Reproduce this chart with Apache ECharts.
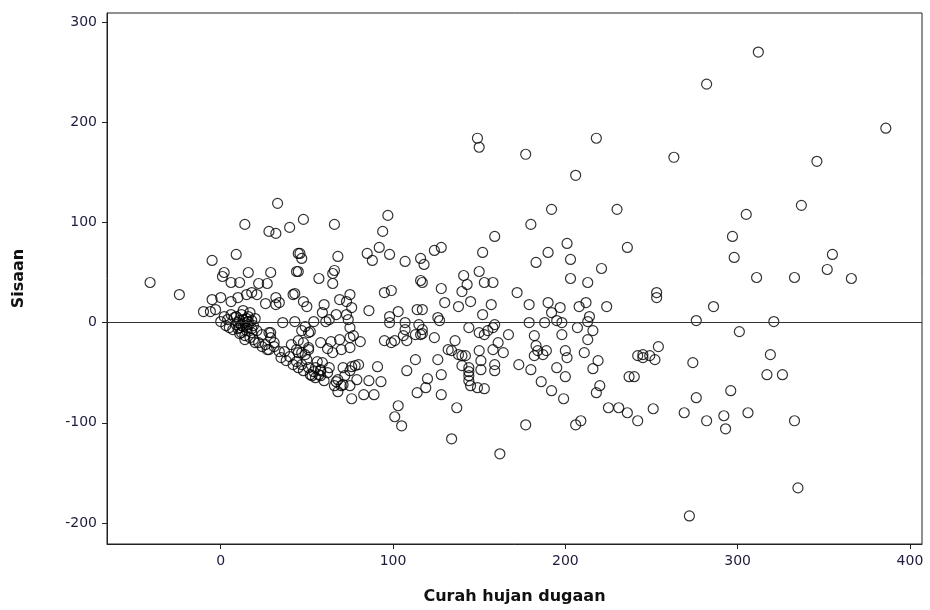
<!DOCTYPE html>
<html><head><meta charset="utf-8">
<script src="https://cdn.jsdelivr.net/npm/echarts@6/dist/echarts.min.js"></script>
<style>html,body{margin:0;padding:0;background:#fff}#c{width:930px;height:610px}</style>
</head><body><div id="c"></div>
<script>
const xTicks = [0, 100, 200, 300, 400];
const yTicks = [-200, -100, 0, 100, 200, 300];
const xTitle = "Curah hujan dugaan";
const yTitle = "Sisaan";

const residLeft = [
[-41,40],[-24,28],[-10,11],[-6,11],[-3,13],[-5,62],[-5,23],[0,25],[2,6],[6,8],[6,21],[10,25],[15,28],[18,30],[21,28],[26,19],[32,25],[32,18],
[33,119],[14,98],[28,91],[32,89],[40,95],[9,68],[45,69],[2,50],[1,46],[6,40],[11,40],[16,50],[29,50],[22,39],[27,39],[44,51],[42,28]
];
const residCluster = [
[8,5],[9,-2],[10,-6],[11,2],[12,-10],[12,8],[13,-4],[14,0],[14,-13],[15,4],[15,-8],[16,-2],[17,10],[17,-15],[18,2],[13,12],[11,-11],[9,6],[16,6],[18,-6],[3,-3],[5,-5],[7,-7],[0,1],[4,3],
[12,-3],[13,3],[15,-5],[16,1],[18,-10],[19,-3],[20,4],[21,-8],[10,0],[11,-5],
[14,-17],[19,-17],[24,-12],[28,-10],[29,-15],[26,-22],[31,-24],[34,-29],[35,-35],[28,-27],[22,-20],[20,-20],[24,-24],[27,-27]
];
const residMid1 = [
[48,21],[50,16],[60,18],[69,23],[75,28],[76,15],[73,21],[59,10],[67,8],[63,3],[54,1],[61,1],[74,3],[75,-5],[36,0],[43,1],[49,-4],[52,-9],[34,20],[58,-20],[64,-19],[69,-17],[75,-15],[70,-27],[75,-25],
[29,-10],[31,-20],[37,-29],[40,-34],[44,-39],[47,-42],[51,-45],[54,-49],[57,-52],
[38,-38],[42,-42],[45,-45],[48,-48],[52,-52],[55,-55],[60,-58],[62,-50],[63,-45],[41,-22],[44,-27],[62,-26],[65,-30],
[51,-25],[47,-30],[50,-37],[56,-39],[59,-40],[58,-47],[71,-45],[76,-44],[67,-59],[70,-63],[75,-63],[79,-57]
];
const residMid2 = [
[48,103],[66,98],[97,107],[94,91],[92,75],[98,68],[85,69],[88,62],[46,69],[47,64],[68,66],[45,51],[66,52],[65,49],[57,44],[65,39],[107,61],[116,64],[118,58],[124,72],[128,75],[116,42],[117,40],[128,34],[95,30],[99,32],[141,47],[143,38],[140,31],[130,20],[138,16],[43,29],
[73,8],[86,12],[103,11],[98,6],[114,13],[117,13],[126,5],
[98,0],[107,0],[115,-2],[127,2],[144,-5],[47,-8],[51,-10],[45,-18],[48,-20],[51,-27],[77,-13],[81,-19],
[95,-18],[99,-20],[101,-18],[106,-13],[108,-18],[113,-12],[116,-12],[117,-11],[124,-15],[117,-7],[107,-7],
[136,-18],[132,-27],[134,-28],[138,-32],[140,-33],[142,-33],[140,-43],[126,-37],
[113,-37],[108,-48],[120,-56],[119,-65],[114,-70],[128,-52],[128,-72],[91,-44],[86,-58],[93,-59],[89,-72],[83,-72],[76,-76],
[68,-57],[72,-53],[75,-48],[78,-43],[80,-42],[66,-63],[68,-69],[71,-62],
[45,-30],[49,-32],[55,-45],[58,-48],[58,-53],[53,-53],
[103,-83],[101,-94],[105,-103],[137,-85],[134,-116]
];
const residRight1 = [
[149,184],[150,175],[218,184],[177,168],[206,147],[192,113],[230,113],[180,98],[159,86],[152,70],[150,51],[190,70],[183,60],[201,79],[203,63],[236,75],[221,54],[203,44],[213,40],[153,40],[158,40],[145,21],[172,30],[157,18],[152,8],[179,18],[190,20],[197,15],[192,10],[208,16],[212,20],[214,6],[224,16],
[179,0],[188,0],[195,2],[198,0],[207,-5],[213,1],[216,-8],[150,-10],[153,-12],[155,-8],[158,-5],[159,-2],[167,-12],[182,-13],[198,-12],[161,-20],[158,-27],[164,-30],[150,-28],[183,-23],[184,-28],[189,-28],[182,-33],[187,-32],[200,-28],[201,-35],[211,-30],[213,-17],
[151,-38],[159,-42],[151,-47],[159,-48],[173,-42],[180,-47],[195,-45],[200,-54],[219,-38],[216,-46],
[144,-45],[144,-49],[144,-53],[144,-58],[145,-63],[149,-65],[153,-66],[186,-59],[192,-68],[199,-76],[220,-63],[218,-70],[237,-54],[242,-33],[225,-85],[231,-85],[236,-90],[242,-98],[177,-102],[206,-102],[209,-98],[162,-131]
];
const residRight2 = [
[312,270],[282,238],[386,194],[263,165],[346,161],[337,117],[305,108],[297,86],[298,65],[311,45],[333,45],[355,68],[352,53],[366,44],[253,30],[253,25],[286,16],[276,2],[321,1],
[301,-9],[254,-24],[245,-32],[249,-33],[252,-37],[245,-35],[274,-40],[319,-32],[317,-52],[326,-52],[296,-68],[276,-75],[251,-86],[240,-54],[269,-90],[282,-98],[292,-93],[293,-106],[306,-90],[333,-98],[335,-165],[272,-193]
];

const allPoints = [].concat(residLeft, residCluster, residMid1, residMid2, residRight1, residRight2);

const labelStyle = {color:'#1c1c3c', fontFamily:'DejaVu Sans', fontSize:14};
const chart = echarts.init(document.getElementById('c'), null, {renderer:'canvas'});
chart.setOption({
  animation:false,
  backgroundColor:'#fff',
  grid:{left:107, right:8, top:13, bottom:65, show:true, borderColor:'#222', borderWidth:1},
  xAxis:{
    type:'value', min:-66, max:407,
    name:xTitle, nameLocation:'middle', nameGap:45,
    nameTextStyle:{color:'#111', fontFamily:'DejaVu Sans', fontSize:16, fontWeight:'bold'},
    axisLine:{show:true, onZero:false, lineStyle:{color:'#222'}},
    axisTick:{show:true, length:5, lineStyle:{color:'#222'}, customValues:xTicks},
    axisLabel:{...labelStyle, margin:10, customValues:xTicks},
    splitLine:{show:false}
  },
  yAxis:{
    type:'value', min:-221, max:309,
    name:yTitle, nameLocation:'middle', nameGap:80,
    nameTextStyle:{color:'#111', fontFamily:'DejaVu Sans', fontSize:16, fontWeight:'bold'},
    axisLine:{show:true, onZero:false, lineStyle:{color:'#222'}},
    axisTick:{show:true, length:5, lineStyle:{color:'#222'}, customValues:yTicks},
    axisLabel:{...labelStyle, margin:10, customValues:yTicks},
    splitLine:{show:false}
  },
  series:[{
    type:'scatter',
    data:allPoints,
    symbol:'circle', symbolSize:10,
    itemStyle:{color:'rgba(0,0,0,0)', borderColor:'#000', borderWidth:1.2},
    markLine:{
      silent:true, symbol:'none', label:{show:false},
      lineStyle:{color:'#333', width:1.2, type:'solid'},
      data:[{yAxis:0}]
    }
  }]
});
</script>
</body></html>
